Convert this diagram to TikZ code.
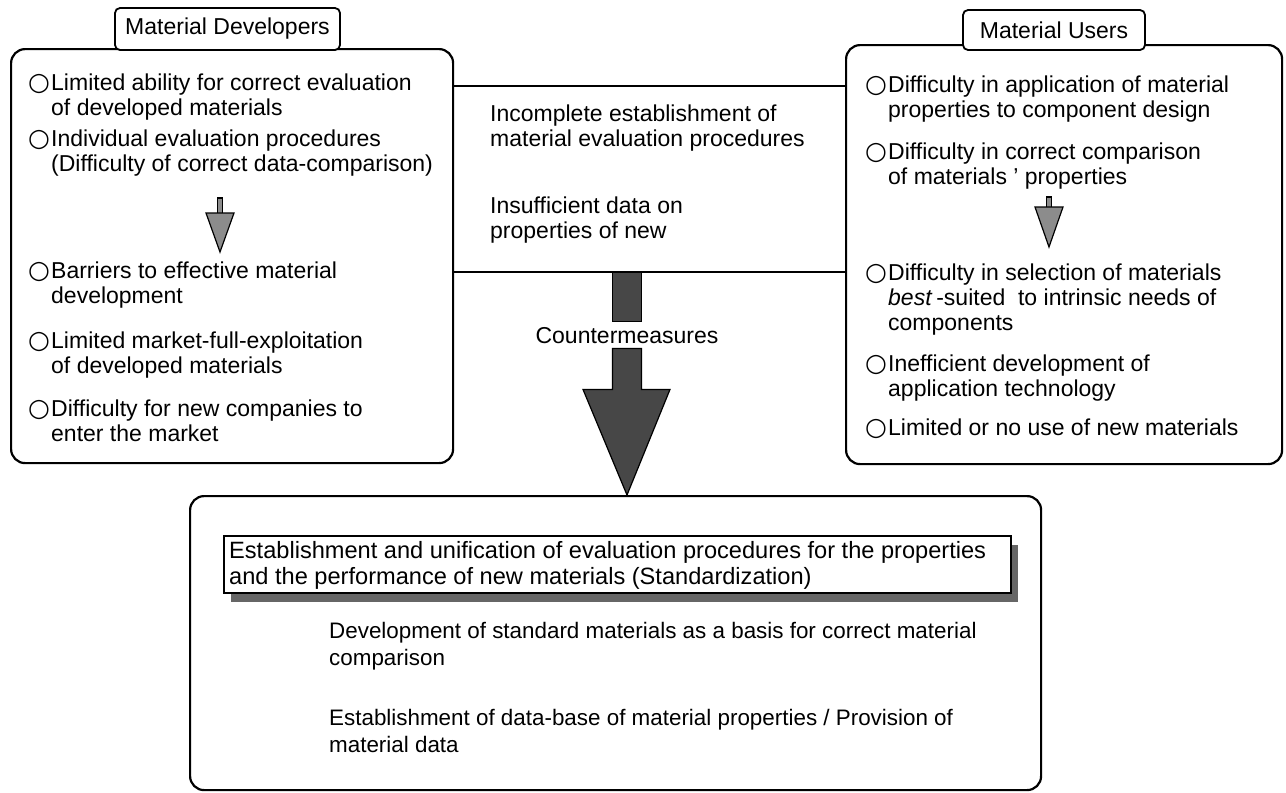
\documentclass[tikz,border=0pt]{standalone}
\usepackage{fontspec}
\setmainfont{Liberation Sans}
\newfontfamily\symf{DejaVu Sans}
\usetikzlibrary{calc,shadows}
\newcommand\tfont{\fontsize{23}{25}\selectfont}
\newcommand\sfontx{\fontsize{23.6}{26}\selectfont}
\newcommand\bfontx{\fontsize{22.4}{27}\selectfont}
\newcommand\cI[1]{\makebox[23pt][l]{\symf\fontsize{25}{25}\selectfont ○}#1}
\newcommand\cont{\\\hspace*{23pt}}
\begin{document}
\begin{tikzpicture}[x=1pt,y=-1pt,
  bigbox/.style={draw, line width=2.2pt, rounded corners=14pt, inner sep=0pt, anchor=north west},
  titlebox/.style={draw, line width=1.8pt, rounded corners=5pt, fill=white, inner sep=0pt, font=\tfont},
  txt/.style={anchor=base west, align=left, inner sep=0pt, font=\tfont},
  stxt/.style={anchor=base west, align=left, inner sep=0pt, font=\sfontx},
  btxt/.style={anchor=base west, align=left, inner sep=0pt, font=\bfontx},
  link/.style={draw, line width=1.5pt},
  smallarr/.style={draw, line width=1.2pt, fill=black!45},
  bigarr/.style={draw, line width=1.2pt, fill=black!72}]
\useasboundingbox (0,0) rectangle (1286,793);
\fill[white] (0,0) rectangle (1286,793);

% main boxes
\node[bigbox, minimum width=442pt, minimum height=414pt] (L) at (10,48) {};
\node[bigbox, minimum width=436pt, minimum height=419pt] (R) at (845,44) {};
\node[bigbox, minimum width=851pt, minimum height=294pt] (B) at (189,495) {};

% titles
\node[titlebox, minimum width=225pt, minimum height=42pt] (LT) at (227.5,29) {Material Developers};
\node[titlebox, minimum width=182pt, minimum height=40pt] (RT) at (1054,30) {Material Users};

% left items (position = baseline of last line)
\node[txt] (l1) at (28,115) {\cI{Limited ability for correct evaluation}\cont of developed materials};
\node[txt] (l2) at (28,171) {\cI{Individual evaluation procedures}\cont (Difficulty of correct data-comparison)};
\node[txt] (l3) at (28,303) {\cI{Barriers to effective material}\cont development};
\node[txt] (l4) at (28,373) {\cI{Limited market-full-exploitation}\cont of developed materials};
\node[txt] (l5) at (28,441) {\cI{Difficulty for new companies to}\cont enter the market};

% right items
\node[txt] (r1) at (865,117) {\cI{Difficulty in application of material}\cont properties to component design};
\node[txt] (r2) at (865,184) {\cI{Difficulty in correct comparison}\cont of materials ' properties};
\node[txt] (r3) at (865,330) {\cI{Difficulty in selection of materials}\cont \textit{best}\,-suited\ \ to intrinsic needs of\cont components};
\node[txt] (r4) at (865,396) {\cI{Inefficient development of}\cont application technology};
\node[txt] (r5) at (865,435) {\cI{Limited or no use of new materials}};

% small arrows
\coordinate (la) at (220,198);
\draw[smallarr] ($(la)+(-2.5,0)$) rectangle ($(la)+(2.5,17)$);
\draw[smallarr] ($(la)+(-14,15)$) -- ($(la)+(14,15)$) -- ($(la)+(0,54)$) -- cycle;
\coordinate (ra) at (1049,197);
\draw[smallarr] ($(ra)+(-2.5,0)$) rectangle ($(ra)+(2.5,12)$);
\draw[smallarr] ($(ra)+(-14,10)$) -- ($(ra)+(14,10)$) -- ($(ra)+(0,50)$) -- cycle;

% middle
\coordinate (h1) at (640,86);
\coordinate (h2) at (640,272);
\draw[link] (h1 -| L.east) -- (h1 -| R.west);
\draw[link] (h2 -| L.east) -- (h2 -| R.west);
\node[txt] (m1) at (490,146) {Incomplete establishment of\\material evaluation procedures};
\node[txt] (m2) at (490,238) {Insufficient data on\\properties of new};
\node[anchor=base, inner sep=4pt, font=\tfont] (cm) at (627,343) {Countermeasures};

% big arrow
\draw[bigarr] ($(cm.north |- h2)+(-14.5,0)$) rectangle ($(cm.north)+(14.5,-1)$);
\draw[bigarr] ($(cm.south)+(-14.5,1)$) -- ($(cm.south)+(-14.5,42)$) -- ($(cm.south)+(-44,42)$)
  -- (cm.south |- B.north) -- ($(cm.south)+(43,42)$) -- ($(cm.south)+(14.5,42)$) -- ($(cm.south)+(14.5,1)$) -- cycle;

% standardization box
\node[draw, line width=1.5pt, fill=white, anchor=north west, minimum width=787pt, minimum height=57pt, inner sep=0pt,
  drop shadow={shadow xshift=7pt, shadow yshift=-9pt, fill=black!60, opacity=1}] (S) at (223,535) {};
\node[stxt] (s1) at (229,584) {Establishment and unification of evaluation procedures for the properties\\and the performance of new materials (Standardization)};

% bottom texts
\node[btxt] (b1) at (329,665) {Development of standard materials as a basis for correct material\\comparison};
\node[btxt] (b2) at (329,752) {Establishment of data-base of material properties / Provision of\\material data};
\end{tikzpicture}
\end{document}
